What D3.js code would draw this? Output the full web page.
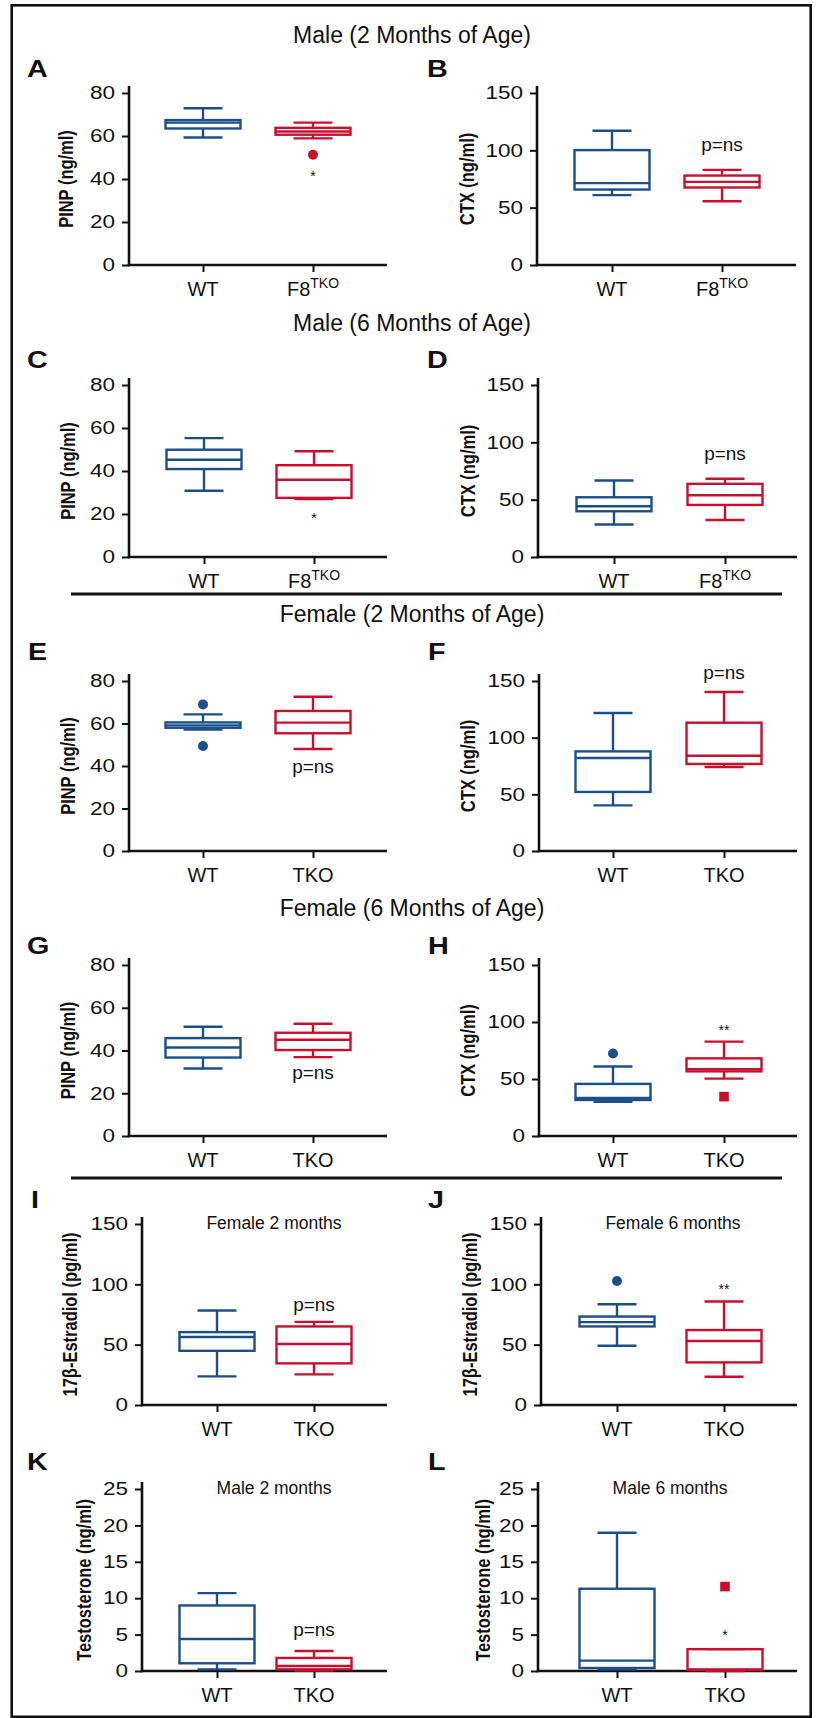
<!DOCTYPE html>
<html>
<head>
<meta charset="utf-8">
<script src="https://cdn.jsdelivr.net/npm/d3@7/dist/d3.min.js"></script>
<style>
    body { margin: 0; background: #fff; }
    svg text { font-family: "Liberation Sans", Arial, sans-serif; fill: #111; }
</style>
</head>
<body>
<div id="chart"></div>
<script>
// ---- data ----
var sectionTitles = ["Male (2 Months of Age)", "Male (6 Months of Age)", "Female (2 Months of Age)", "Female (6 Months of Age)"];
var panelLetters = ["A", "B", "C", "D", "E", "F", "G", "H", "I", "J", "K", "L"];
var yLabels = ["PINP (ng/ml)", "CTX (ng/ml)", "PINP (ng/ml)", "CTX (ng/ml)",
               "PINP (ng/ml)", "CTX (ng/ml)", "PINP (ng/ml)", "CTX (ng/ml)",
               "17β-Estradiol (pg/ml)", "17β-Estradiol (pg/ml)",
               "Testosterone (ng/ml)", "Testosterone (ng/ml)"];
var yMax = [80, 150, 80, 150, 80, 150, 80, 150, 150, 150, 25, 25];
var yStep = [20, 50, 20, 50, 20, 50, 20, 50, 50, 50, 5, 5];
var koNames = ["F8TKO", "F8TKO", "F8TKO", "F8TKO", "TKO", "TKO", "TKO", "TKO", "TKO", "TKO", "TKO", "TKO"];
var subTitles = ["", "", "", "", "", "", "", "", "Female 2 months", "Female 6 months", "Male 2 months", "Male 6 months"];

// box stats: [low whisker, Q1, median, Q3, high whisker]
var wtStats = [
    [59.3, 63.5, 66.2, 67.4, 72.9],
    [60.9, 65.8, 71.4, 100.2, 117.1],
    [30.8, 40.9, 45.2, 49.9, 55.3],
    [28.3, 39.9, 44.3, 52.1, 66.7],
    [57.1, 58.0, 59.1, 60.5, 64.3],
    [40.3, 52.1, 82.1, 87.9, 121.8],
    [31.6, 36.7, 41.4, 45.8, 51.1],
    [30.0, 31.6, 33.4, 45.7, 60.9],
    [23.7, 44.9, 56.3, 60.4, 78.3],
    [49.1, 65.1, 68.7, 73.3, 83.5],
    [0.23, 1.06, 4.4, 9.0, 10.7],
    [0.23, 0.41, 1.42, 11.3, 19.0]
];
var koStats = [
    [58.9, 60.6, 62.1, 63.8, 66.2],
    [55.6, 67.6, 72.5, 78.0, 83.0],
    [26.9, 27.5, 35.9, 42.7, 49.2],
    [32.3, 45.4, 53.9, 63.8, 68.2],
    [48.0, 55.4, 60.4, 65.9, 72.6],
    [74.1, 76.8, 84.1, 113.2, 140.3],
    [36.9, 40.2, 45.0, 48.3, 52.5],
    [50.3, 56.7, 58.7, 68.1, 82.8],
    [25.4, 34.5, 50.5, 65.1, 68.9],
    [23.4, 35.3, 53.0, 62.1, 85.8],
    [0.05, 0.23, 0.69, 1.79, 2.75],
    [0.0, 0.14, 0.23, 3.0, 3.0]
];
var wtOutliers = [[], [], [], [], [69.0, 49.4], [], [], [72.4], [], [102.8], [], []];
var koOutliers = [[51.3], [], [], [], [], [], [], [34.5], [], [], [], [11.6]];
var koOutlierShape = ["circle", "", "", "", "", "", "", "square", "", "", "", "square"];
var signifText = ["*", "p=ns", "*", "p=ns", "p=ns", "p=ns", "p=ns", "**", "p=ns", "**", "p=ns", "*"];
var signifValue = [42.7, 104.3, 19.4, 89.7, 39.5, 156.5, 29.2, 95.4, 82.9, 98.7, 5.6, 5.3];

// ---- layout (pixels) ----
// [axisX, top tick y, zero y, x axis end, WT x, KO x, y label x, letter x, letter baseline]
var layout = [
    [129, 93, 265, 387, 203, 313, 66, 27, 77],
    [537, 93, 265, 796, 612, 722, 467, 427, 77],
    [129, 385, 557, 387, 204, 314, 68, 27, 368],
    [538, 385, 557, 797, 614, 725, 468, 427, 368],
    [129, 681, 851, 387, 203, 313, 68, 28, 660],
    [539, 681, 851, 797, 613, 724, 468, 428, 660],
    [129, 965, 1136, 387, 203, 313, 68, 27, 954],
    [539, 965, 1136, 797, 613, 724, 468, 428, 954],
    [142, 1224, 1405, 387, 217, 314, 70, 31, 1208],
    [541, 1224, 1405, 797, 617, 724, 470, 428, 1208],
    [142, 1489, 1671, 387, 217, 314, 84, 27, 1470],
    [538, 1489, 1671, 797, 617, 725, 483, 428, 1470]
];
var titleY = [43, 331, 622, 916];
var dividerY = [594, 1178];

var blue = "#1a4f8a";
var red = "#c8102e";
var W = 817, H = 1718;

var svg = d3.select("#chart").append("svg")
    .attr("width", W)
    .attr("height", H);

// outer frame
svg.append("rect")
    .attr("x", 11.7).attr("y", 5.3)
    .attr("width", 799).attr("height", 1711.5)
    .attr("fill", "none").attr("stroke", "#111").attr("stroke-width", 2.6);

dividerY.forEach(function(d) {
    svg.append("line")
        .attr("x1", 71).attr("x2", 782).attr("y1", d).attr("y2", d)
        .attr("stroke", "#111").attr("stroke-width", 3);
});

sectionTitles.forEach(function(t, i) {
    svg.append("text")
        .attr("x", 412).attr("y", titleY[i])
        .attr("text-anchor", "middle")
        .style("font-size", "23px")
        .text(t);
});

function drawBox(g, cx, s, y, color) {
    var bw = 75, cw = 39;
    var c = g.append("g").attr("stroke", color).attr("stroke-width", 2.4).attr("fill", "none");
    // whiskers
    c.append("line").attr("x1", cx).attr("x2", cx).attr("y1", y(s[0])).attr("y2", y(s[1]));
    c.append("line").attr("x1", cx).attr("x2", cx).attr("y1", y(s[3])).attr("y2", y(s[4]));
    c.append("line").attr("x1", cx - cw / 2).attr("x2", cx + cw / 2).attr("y1", y(s[0])).attr("y2", y(s[0]));
    c.append("line").attr("x1", cx - cw / 2).attr("x2", cx + cw / 2).attr("y1", y(s[4])).attr("y2", y(s[4]));
    // box + median
    c.append("rect")
        .attr("x", cx - bw / 2).attr("y", y(s[3]))
        .attr("width", bw).attr("height", Math.max(0.5, y(s[1]) - y(s[3])));
    c.append("line").attr("x1", cx - bw / 2).attr("x2", cx + bw / 2).attr("y1", y(s[2])).attr("y2", y(s[2]));
}

function drawPanel(i) {
    var L = layout[i];
    var axisX = L[0], y0 = L[2], xEnd = L[3];
    var cats = ["WT", koNames[i]];
    var y = d3.scaleLinear().domain([0, yMax[i]]).range([y0, L[1]]);
    var x = d3.scalePoint().domain(cats).range([L[4], L[5]]);
    var g = svg.append("g");

    // y axis ticks
    var yAxis = d3.axisLeft(y)
        .tickValues(d3.range(0, yMax[i] + 0.001, yStep[i]))
        .tickSize(7).tickPadding(7);
    var ya = g.append("g").attr("transform", "translate(" + axisX + ",0)").call(yAxis);
    ya.select(".domain").remove();
    ya.selectAll("line").attr("stroke", "#111").attr("stroke-width", 2);
    // numbers in the figure are horizontally stretched
    ya.selectAll("text")
        .attr("fill", "#111")
        .attr("x", 0)
        .attr("transform", "translate(-14,0) scale(1.25,1)")
        .style("font-size", "18px");

    // x axis ticks
    var xAxis = d3.axisBottom(x).tickSize(7).tickFormat("");
    var xa = g.append("g").attr("transform", "translate(0," + y0 + ")").call(xAxis);
    xa.select(".domain").remove();
    xa.selectAll("line").attr("stroke", "#111").attr("stroke-width", 2);

    // axis lines
    g.append("line")
        .attr("x1", axisX).attr("x2", axisX)
        .attr("y1", L[1] - 7).attr("y2", y0 + 1.2)
        .attr("stroke", "#111").attr("stroke-width", 2.6);
    g.append("line")
        .attr("x1", axisX - 1.2).attr("x2", xEnd)
        .attr("y1", y0).attr("y2", y0)
        .attr("stroke", "#111").attr("stroke-width", 2.6);

    // category labels
    cats.forEach(function(c) {
        var t = g.append("text")
            .attr("x", x(c)).attr("y", y0 + 31)
            .attr("text-anchor", "middle")
            .style("font-size", "20px");
        if (c === "F8TKO") {
            t.append("tspan").text("F8");
            t.append("tspan").attr("dy", -8).style("font-size", "14px").text("TKO");
        } else {
            t.text(c);
        }
    });

    // y label
    g.append("text")
        .attr("transform", "translate(" + L[6] + "," + ((y0 + L[1]) / 2) + ") scale(1.22,1) rotate(-90)")
        .attr("text-anchor", "middle")
        .attr("dominant-baseline", "central")
        .style("font-size", "16.5px")
        .style("font-weight", "bold")
        .text(yLabels[i]);

    // panel letter
    g.append("text")
        .attr("transform", "translate(" + L[7] + "," + L[8] + ") scale(1.25,1)")
        .style("font-size", "23px")
        .style("font-weight", "bold")
        .text(panelLetters[i]);

    if (subTitles[i]) {
        g.append("text")
            .attr("x", axisX + 132).attr("y", L[1] + 5)
            .attr("text-anchor", "middle")
            .style("font-size", "17.5px")
            .text(subTitles[i]);
    }

    drawBox(g, x("WT"), wtStats[i], y, blue);
    drawBox(g, x(koNames[i]), koStats[i], y, red);

    wtOutliers[i].forEach(function(v) {
        g.append("circle").attr("cx", x("WT")).attr("cy", y(v)).attr("r", 5).attr("fill", blue);
    });
    koOutliers[i].forEach(function(v) {
        if (koOutlierShape[i] === "square") {
            g.append("rect")
                .attr("x", x(koNames[i]) - 4.8).attr("y", y(v) - 4.8)
                .attr("width", 9.6).attr("height", 9.6).attr("fill", red);
        } else {
            g.append("circle").attr("cx", x(koNames[i])).attr("cy", y(v)).attr("r", 5).attr("fill", red);
        }
    });

    // significance text
    var star = signifText[i].charAt(0) === "*";
    g.append("text")
        .attr("x", x(koNames[i])).attr("y", y(signifValue[i]))
        .attr("dy", star ? "0.57em" : "0.3em")
        .attr("text-anchor", "middle")
        .style("font-size", star ? "14px" : "19px")
        .text(signifText[i]);
}

for (var i = 0; i < panelLetters.length; i++) {
    drawPanel(i);
}
</script>
</body>
</html>
